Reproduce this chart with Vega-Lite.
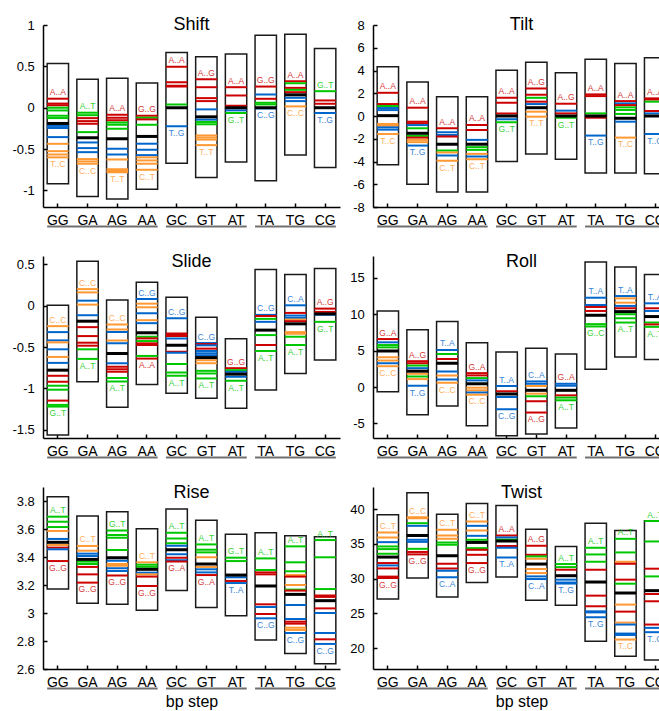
{
"$schema": "https://vega.github.io/schema/vega-lite/v6.json",
"padding": {"left": 11, "top": 16, "right": 0, "bottom": 0},
"autosize": {"type": "pad"},
"config": {
  "view": {"stroke": null},
  "font": "Liberation Sans",
  "axis": {"grid": false, "domainColor": "black", "domainWidth": 1.5, "tickColor": "black", "tickWidth": 1.5, "tickSize": -4, "labelColor": "black", "labelFont": "Liberation Sans", "titleFont": "Liberation Sans", "titleColor": "black", "titleFontWeight": "normal", "labelOverlap": false},
  "axisX": {"labelFontSize": 14, "labelPadding": 10.7, "labelAngle": 0, "titleFontSize": 16, "titlePadding": 4},
  "axisY": {"labelFontSize": 13, "labelPadding": 12.7, "labelExpr": "'' + datum.value"},
  "title": {"font": "Liberation Sans", "fontSize": 18, "fontWeight": "normal", "color": "black", "offset": -15, "baseline": "alphabetic", "frame": "group", "anchor": "middle"},
  "text": {"font": "Liberation Sans"}
},
"datasets": {
"groups": [{"a": "GG", "b": "AA"}, {"a": "GC", "b": "AT"}, {"a": "TA", "b": "CG"}],
"boxes": [
{"p":"Shift","s":"GG","lo":-0.92,"hi":0.536},{"p":"Shift","s":"GA","lo":-1.072,"hi":0.344},{"p":"Shift","s":"AG","lo":-1.104,"hi":0.356},{"p":"Shift","s":"AA","lo":-0.984,"hi":0.298},{"p":"Shift","s":"GC","lo":-0.672,"hi":0.668},{"p":"Shift","s":"GT","lo":-0.844,"hi":0.616},{"p":"Shift","s":"AT","lo":-0.656,"hi":0.648},{"p":"Shift","s":"TA","lo":-0.884,"hi":0.876},{"p":"Shift","s":"TG","lo":-0.572,"hi":0.888},{"p":"Shift","s":"CG","lo":-0.724,"hi":0.716},
{"p":"Tilt","s":"GG","lo":-4.29,"hi":4.32},{"p":"Tilt","s":"GA","lo":-5.99,"hi":3.0},{"p":"Tilt","s":"AG","lo":-6.69,"hi":1.69},{"p":"Tilt","s":"AA","lo":-6.69,"hi":1.69},{"p":"Tilt","s":"GC","lo":-4.0,"hi":4.03},{"p":"Tilt","s":"GT","lo":-3.33,"hi":4.73},{"p":"Tilt","s":"AT","lo":-3.8,"hi":3.8},{"p":"Tilt","s":"TA","lo":-5.02,"hi":5.0},{"p":"Tilt","s":"TG","lo":-5.02,"hi":4.61},{"p":"Tilt","s":"CG","lo":-5.08,"hi":5.11},
{"p":"Slide","s":"GG","lo":-1.564,"hi":0.004},{"p":"Slide","s":"GA","lo":-0.92,"hi":0.536},{"p":"Slide","s":"AG","lo":-1.228,"hi":0.068},{"p":"Slide","s":"AA","lo":-0.952,"hi":0.284},{"p":"Slide","s":"GC","lo":-1.06,"hi":0.1},{"p":"Slide","s":"GT","lo":-1.12,"hi":-0.14},{"p":"Slide","s":"AT","lo":-1.24,"hi":-0.4},{"p":"Slide","s":"TA","lo":-1.02,"hi":0.436},{"p":"Slide","s":"TG","lo":-0.82,"hi":0.376},{"p":"Slide","s":"CG","lo":-0.656,"hi":0.448},
{"p":"Roll","s":"GG","lo":-0.64,"hi":10.45},{"p":"Roll","s":"GA","lo":-3.82,"hi":7.86},{"p":"Roll","s":"AG","lo":-2.59,"hi":9.0},{"p":"Roll","s":"AA","lo":-5.32,"hi":6.09},{"p":"Roll","s":"GC","lo":-6.68,"hi":4.82},{"p":"Roll","s":"GT","lo":-6.45,"hi":5.32},{"p":"Roll","s":"AT","lo":-5.64,"hi":4.55},{"p":"Roll","s":"TA","lo":2.45,"hi":17.18},{"p":"Roll","s":"TG","lo":4.14,"hi":16.5},{"p":"Roll","s":"CG","lo":3.77,"hi":15.45},
{"p":"Rise","s":"GG","lo":3.171,"hi":3.831},{"p":"Rise","s":"GA","lo":3.069,"hi":3.693},{"p":"Rise","s":"AG","lo":3.062,"hi":3.724},{"p":"Rise","s":"AA","lo":3.019,"hi":3.602},{"p":"Rise","s":"GC","lo":3.16,"hi":3.743},{"p":"Rise","s":"GT","lo":3.04,"hi":3.662},{"p":"Rise","s":"AT","lo":2.981,"hi":3.562},{"p":"Rise","s":"TA","lo":2.807,"hi":3.574},{"p":"Rise","s":"TG","lo":2.71,"hi":3.552},{"p":"Rise","s":"CG","lo":2.638,"hi":3.545},
{"p":"Twist","s":"GG","lo":27.08,"hi":39.19},{"p":"Twist","s":"GA","lo":30.1,"hi":42.39},{"p":"Twist","s":"AG","lo":27.37,"hi":39.28},{"p":"Twist","s":"AA","lo":29.47,"hi":40.81},{"p":"Twist","s":"GC","lo":30.24,"hi":40.53},{"p":"Twist","s":"GT","lo":26.89,"hi":37.13},{"p":"Twist","s":"AT","lo":26.17,"hi":34.64},{"p":"Twist","s":"TA","lo":21.0,"hi":37.99},{"p":"Twist","s":"TG","lo":18.85,"hi":36.94},{"p":"Twist","s":"CG","lo":18.28,"hi":38.33}
],
"labels": [
{"p":"Shift","s":"GG","pos":"top","t":"A..A","c":"RR","v":0.109},{"p":"Shift","s":"GG","pos":"bot","t":"T..C","c":"YY","v":-0.6},
{"p":"Shift","s":"GA","pos":"top","t":"A..T","c":"RY","v":-0.06},{"p":"Shift","s":"GA","pos":"bot","t":"C..C","c":"YY","v":-0.677},
{"p":"Shift","s":"AG","pos":"top","t":"A..A","c":"RR","v":-0.085},{"p":"Shift","s":"AG","pos":"bot","t":"T..T","c":"YY","v":-0.78},
{"p":"Shift","s":"AA","pos":"top","t":"G..G","c":"RR","v":-0.097},{"p":"Shift","s":"AA","pos":"bot","t":"C..T","c":"YY","v":-0.75},
{"p":"Shift","s":"GC","pos":"top","t":"A..A","c":"RR","v":0.496},{"p":"Shift","s":"GC","pos":"bot","t":"T..G","c":"YR","v":-0.224},
{"p":"Shift","s":"GT","pos":"top","t":"A..G","c":"RR","v":0.344},{"p":"Shift","s":"GT","pos":"bot","t":"T..T","c":"YY","v":-0.452},
{"p":"Shift","s":"AT","pos":"top","t":"A..A","c":"RR","v":0.248},{"p":"Shift","s":"AT","pos":"bot","t":"G..T","c":"RY","v":-0.064},
{"p":"Shift","s":"TA","pos":"top","t":"G..G","c":"RR","v":0.256},{"p":"Shift","s":"TA","pos":"bot","t":"C..G","c":"YR","v":-0.008},
{"p":"Shift","s":"TG","pos":"top","t":"A..A","c":"RR","v":0.32},{"p":"Shift","s":"TG","pos":"bot","t":"C..C","c":"YY","v":0.016},
{"p":"Shift","s":"CG","pos":"top","t":"G..T","c":"RY","v":0.2},{"p":"Shift","s":"CG","pos":"bot","t":"T..G","c":"YR","v":-0.064},
{"p":"Tilt","s":"GG","pos":"top","t":"A..A","c":"RR","v":2.04},{"p":"Tilt","s":"GG","pos":"bot","t":"T..C","c":"YY","v":-1.58},
{"p":"Tilt","s":"GA","pos":"top","t":"A..A","c":"RR","v":0.73},{"p":"Tilt","s":"GA","pos":"bot","t":"T..G","c":"YR","v":-2.6},
{"p":"Tilt","s":"AG","pos":"top","t":"A..A","c":"RR","v":-1.08},{"p":"Tilt","s":"AG","pos":"bot","t":"C..T","c":"YY","v":-3.94},
{"p":"Tilt","s":"AA","pos":"top","t":"A..A","c":"RR","v":-0.79},{"p":"Tilt","s":"AA","pos":"bot","t":"C..T","c":"YY","v":-3.8},
{"p":"Tilt","s":"GC","pos":"top","t":"A..A","c":"RR","v":1.6},{"p":"Tilt","s":"GC","pos":"bot","t":"G..T","c":"RY","v":-0.55},
{"p":"Tilt","s":"GT","pos":"top","t":"A..G","c":"RR","v":2.42},{"p":"Tilt","s":"GT","pos":"bot","t":"T..T","c":"YY","v":-0.06},
{"p":"Tilt","s":"AT","pos":"top","t":"A..G","c":"RR","v":1.08},{"p":"Tilt","s":"AT","pos":"bot","t":"G..T","c":"RY","v":-0.15},
{"p":"Tilt","s":"TA","pos":"top","t":"A..A","c":"RR","v":1.9},{"p":"Tilt","s":"TA","pos":"bot","t":"T..G","c":"YR","v":-1.72},
{"p":"Tilt","s":"TG","pos":"top","t":"A..A","c":"RR","v":1.31},{"p":"Tilt","s":"TG","pos":"bot","t":"T..C","c":"YY","v":-1.9},
{"p":"Tilt","s":"CG","pos":"top","t":"A..A","c":"RR","v":1.55},{"p":"Tilt","s":"CG","pos":"bot","t":"T..G","c":"YR","v":-1.58},
{"p":"Slide","s":"GG","pos":"top","t":"C..C","c":"YY","v":-0.248},{"p":"Slide","s":"GG","pos":"bot","t":"G..T","c":"RY","v":-1.22},
{"p":"Slide","s":"GA","pos":"top","t":"C..C","c":"YY","v":0.2},{"p":"Slide","s":"GA","pos":"bot","t":"A..T","c":"RY","v":-0.644},
{"p":"Slide","s":"AG","pos":"top","t":"C..C","c":"YY","v":-0.228},{"p":"Slide","s":"AG","pos":"bot","t":"A..T","c":"RY","v":-0.916},
{"p":"Slide","s":"AA","pos":"top","t":"C..G","c":"YR","v":0.08},{"p":"Slide","s":"AA","pos":"bot","t":"A..A","c":"RR","v":-0.64},
{"p":"Slide","s":"GC","pos":"top","t":"C..G","c":"YR","v":-0.152},{"p":"Slide","s":"GC","pos":"bot","t":"A..T","c":"RY","v":-0.848},
{"p":"Slide","s":"GT","pos":"top","t":"C..G","c":"YR","v":-0.452},{"p":"Slide","s":"GT","pos":"bot","t":"A..T","c":"RY","v":-0.88},
{"p":"Slide","s":"AT","pos":"top","t":"G..G","c":"RR","v":-0.756},{"p":"Slide","s":"AT","pos":"bot","t":"A..T","c":"RY","v":-0.908},
{"p":"Slide","s":"TA","pos":"top","t":"C..G","c":"YR","v":-0.112},{"p":"Slide","s":"TA","pos":"bot","t":"A..T","c":"RY","v":-0.548},
{"p":"Slide","s":"TG","pos":"top","t":"C..A","c":"YR","v":0.004},{"p":"Slide","s":"TG","pos":"bot","t":"A..T","c":"RY","v":-0.476},
{"p":"Slide","s":"CG","pos":"top","t":"A..G","c":"RR","v":-0.036},{"p":"Slide","s":"CG","pos":"bot","t":"G..T","c":"RY","v":-0.196},
{"p":"Roll","s":"GG","pos":"top","t":"G..A","c":"RR","v":6.59},{"p":"Roll","s":"GG","pos":"bot","t":"C..C","c":"YY","v":2.86},
{"p":"Roll","s":"GA","pos":"top","t":"A..G","c":"RR","v":3.55},{"p":"Roll","s":"GA","pos":"bot","t":"T..G","c":"YR","v":0.18},
{"p":"Roll","s":"AG","pos":"top","t":"T..A","c":"YR","v":5.09},{"p":"Roll","s":"AG","pos":"bot","t":"C..C","c":"YY","v":0.59},
{"p":"Roll","s":"AA","pos":"top","t":"G..A","c":"RR","v":1.91},{"p":"Roll","s":"AA","pos":"bot","t":"C..C","c":"YY","v":-1.05},
{"p":"Roll","s":"GC","pos":"top","t":"T..A","c":"YR","v":0.14},{"p":"Roll","s":"GC","pos":"bot","t":"C..G","c":"YR","v":-3.05},
{"p":"Roll","s":"GT","pos":"top","t":"C..A","c":"YR","v":0.77},{"p":"Roll","s":"GT","pos":"bot","t":"A..G","c":"RR","v":-3.5},
{"p":"Roll","s":"AT","pos":"top","t":"G..A","c":"RR","v":0.45},{"p":"Roll","s":"AT","pos":"bot","t":"A..T","c":"RY","v":-1.82},
{"p":"Roll","s":"TA","pos":"top","t":"T..A","c":"YR","v":12.27},{"p":"Roll","s":"TA","pos":"bot","t":"G..C","c":"RY","v":8.32},
{"p":"Roll","s":"TG","pos":"top","t":"T..A","c":"YR","v":12.5},{"p":"Roll","s":"TG","pos":"bot","t":"A..T","c":"RY","v":8.86},
{"p":"Roll","s":"CG","pos":"top","t":"T..A","c":"YR","v":11.5},{"p":"Roll","s":"CG","pos":"bot","t":"A..T","c":"RY","v":8.27},
{"p":"Rise","s":"GG","pos":"top","t":"A..T","c":"RY","v":3.688},{"p":"Rise","s":"GG","pos":"bot","t":"G..G","c":"RR","v":3.371},
{"p":"Rise","s":"GA","pos":"top","t":"C..T","c":"YY","v":3.479},{"p":"Rise","s":"GA","pos":"bot","t":"G..G","c":"RR","v":3.217},
{"p":"Rise","s":"AG","pos":"top","t":"G..T","c":"RY","v":3.59},{"p":"Rise","s":"AG","pos":"bot","t":"G..G","c":"RR","v":3.267},
{"p":"Rise","s":"AA","pos":"top","t":"C..T","c":"YY","v":3.362},{"p":"Rise","s":"AA","pos":"bot","t":"G..G","c":"RR","v":3.193},
{"p":"Rise","s":"GC","pos":"top","t":"A..T","c":"RY","v":3.574},{"p":"Rise","s":"GC","pos":"bot","t":"G..A","c":"RR","v":3.367},
{"p":"Rise","s":"GT","pos":"top","t":"A..T","c":"RY","v":3.49},{"p":"Rise","s":"GT","pos":"bot","t":"G..A","c":"RR","v":3.271},
{"p":"Rise","s":"AT","pos":"top","t":"G..T","c":"RY","v":3.395},{"p":"Rise","s":"AT","pos":"bot","t":"T..A","c":"YR","v":3.214},
{"p":"Rise","s":"TA","pos":"top","t":"A..T","c":"RY","v":3.39},{"p":"Rise","s":"TA","pos":"bot","t":"C..G","c":"YR","v":2.962},
{"p":"Rise","s":"TG","pos":"top","t":"A..T","c":"RY","v":3.476},{"p":"Rise","s":"TG","pos":"bot","t":"C..G","c":"YR","v":2.857},
{"p":"Rise","s":"CG","pos":"top","t":"A..T","c":"RY","v":3.521},{"p":"Rise","s":"CG","pos":"bot","t":"C..G","c":"YR","v":2.779},
{"p":"Twist","s":"GG","pos":"top","t":"C..T","c":"YY","v":36.65},{"p":"Twist","s":"GG","pos":"bot","t":"G..G","c":"RR","v":30.1},
{"p":"Twist","s":"GA","pos":"top","t":"C..C","c":"YY","v":38.85},{"p":"Twist","s":"GA","pos":"bot","t":"G..G","c":"RR","v":33.5},
{"p":"Twist","s":"AG","pos":"top","t":"C..T","c":"YY","v":37.03},{"p":"Twist","s":"AG","pos":"bot","t":"C..A","c":"YR","v":30.19},
{"p":"Twist","s":"AA","pos":"top","t":"C..T","c":"YY","v":38.23},{"p":"Twist","s":"AA","pos":"bot","t":"G..G","c":"RR","v":32.25},
{"p":"Twist","s":"GC","pos":"top","t":"A..A","c":"RR","v":36.22},{"p":"Twist","s":"GC","pos":"bot","t":"T..A","c":"YR","v":33.06},
{"p":"Twist","s":"GT","pos":"top","t":"A..G","c":"RR","v":34.74},{"p":"Twist","s":"GT","pos":"bot","t":"C..A","c":"YR","v":29.95},
{"p":"Twist","s":"AT","pos":"top","t":"A..T","c":"RY","v":32.11},{"p":"Twist","s":"AT","pos":"bot","t":"T..G","c":"YR","v":29.3},
{"p":"Twist","s":"TA","pos":"top","t":"A..T","c":"RY","v":34.45},{"p":"Twist","s":"TA","pos":"bot","t":"T..G","c":"YR","v":24.45},
{"p":"Twist","s":"TG","pos":"top","t":"A..T","c":"RY","v":35.74},{"p":"Twist","s":"TG","pos":"bot","t":"T..C","c":"YY","v":21.24},
{"p":"Twist","s":"CG","pos":"top","t":"A..T","c":"RY","v":38.3},{"p":"Twist","s":"CG","pos":"bot","t":"T..G","c":"YR","v":22.3}
],
"lines": [
{"p":"Shift","s":"GG","c":"RR","v":0.109},{"p":"Shift","s":"GG","c":"RR","v":0.05},{"p":"Shift","s":"GG","c":"RR","v":0.03},{"p":"Shift","s":"GG","c":"RY","v":0.0},{"p":"Shift","s":"GG","c":"RY","v":-0.033},{"p":"Shift","s":"GG","c":"RY","v":-0.097},{"p":"Shift","s":"GG","c":"RY","v":-0.125},{"p":"Shift","s":"GG","c":"YR","v":-0.22},{"p":"Shift","s":"GG","c":"YR","v":-0.245},{"p":"Shift","s":"GG","c":"YR","v":-0.355},{"p":"Shift","s":"GG","c":"YY","v":-0.436},{"p":"Shift","s":"GG","c":"YY","v":-0.525},{"p":"Shift","s":"GG","c":"YY","v":-0.565},{"p":"Shift","s":"GG","c":"YY","v":-0.6},{"p":"Shift","s":"GG","c":"M","v":-0.19},
{"p":"Shift","s":"GA","c":"RY","v":-0.06},{"p":"Shift","s":"GA","c":"RY","v":-0.09},{"p":"Shift","s":"GA","c":"RR","v":-0.126},{"p":"Shift","s":"GA","c":"RR","v":-0.162},{"p":"Shift","s":"GA","c":"RR","v":-0.194},{"p":"Shift","s":"GA","c":"RY","v":-0.295},{"p":"Shift","s":"GA","c":"YR","v":-0.42},{"p":"Shift","s":"GA","c":"YR","v":-0.488},{"p":"Shift","s":"GA","c":"YR","v":-0.537},{"p":"Shift","s":"GA","c":"YY","v":-0.621},{"p":"Shift","s":"GA","c":"YY","v":-0.649},{"p":"Shift","s":"GA","c":"YY","v":-0.677},{"p":"Shift","s":"GA","c":"M","v":-0.363},
{"p":"Shift","s":"AG","c":"RR","v":-0.085},{"p":"Shift","s":"AG","c":"RR","v":-0.121},{"p":"Shift","s":"AG","c":"RR","v":-0.15},{"p":"Shift","s":"AG","c":"RY","v":-0.178},{"p":"Shift","s":"AG","c":"RY","v":-0.206},{"p":"Shift","s":"AG","c":"RY","v":-0.254},{"p":"Shift","s":"AG","c":"YR","v":-0.496},{"p":"Shift","s":"AG","c":"YR","v":-0.565},{"p":"Shift","s":"AG","c":"YY","v":-0.625},{"p":"Shift","s":"AG","c":"YY","v":-0.745},{"p":"Shift","s":"AG","c":"YY","v":-0.765},{"p":"Shift","s":"AG","c":"YY","v":-0.78},{"p":"Shift","s":"AG","c":"M","v":-0.375},
{"p":"Shift","s":"AA","c":"RR","v":-0.097},{"p":"Shift","s":"AA","c":"RY","v":-0.121},{"p":"Shift","s":"AA","c":"RR","v":-0.141},{"p":"Shift","s":"AA","c":"RY","v":-0.206},{"p":"Shift","s":"AA","c":"YR","v":-0.435},{"p":"Shift","s":"AA","c":"YR","v":-0.508},{"p":"Shift","s":"AA","c":"YR","v":-0.573},{"p":"Shift","s":"AA","c":"YY","v":-0.6},{"p":"Shift","s":"AA","c":"YY","v":-0.637},{"p":"Shift","s":"AA","c":"YY","v":-0.677},{"p":"Shift","s":"AA","c":"YY","v":-0.75},{"p":"Shift","s":"AA","c":"M","v":-0.347},
{"p":"Shift","s":"GC","c":"RR","v":0.496},{"p":"Shift","s":"GC","c":"RR","v":0.308},{"p":"Shift","s":"GC","c":"RR","v":0.256},{"p":"Shift","s":"GC","c":"RR","v":0.265},{"p":"Shift","s":"GC","c":"RY","v":0.04},{"p":"Shift","s":"GC","c":"YR","v":-0.224},{"p":"Shift","s":"GC","c":"M","v":0.0},
{"p":"Shift","s":"GT","c":"RR","v":0.344},{"p":"Shift","s":"GT","c":"RR","v":0.248},{"p":"Shift","s":"GT","c":"RR","v":0.116},{"p":"Shift","s":"GT","c":"RR","v":0.08},{"p":"Shift","s":"GT","c":"YR","v":-0.02},{"p":"Shift","s":"GT","c":"YR","v":-0.144},{"p":"Shift","s":"GT","c":"RY","v":-0.172},{"p":"Shift","s":"GT","c":"RY","v":-0.2},{"p":"Shift","s":"GT","c":"YY","v":-0.335},{"p":"Shift","s":"GT","c":"YY","v":-0.36},{"p":"Shift","s":"GT","c":"YY","v":-0.385},{"p":"Shift","s":"GT","c":"YY","v":-0.452},{"p":"Shift","s":"GT","c":"M","v":-0.11},
{"p":"Shift","s":"AT","c":"RR","v":0.248},{"p":"Shift","s":"AT","c":"RR","v":0.148},{"p":"Shift","s":"AT","c":"RR","v":0.024},{"p":"Shift","s":"AT","c":"YR","v":-0.032},{"p":"Shift","s":"AT","c":"RY","v":-0.064},{"p":"Shift","s":"AT","c":"M","v":0.0},
{"p":"Shift","s":"TA","c":"RR","v":0.256},{"p":"Shift","s":"TA","c":"YR","v":0.16},{"p":"Shift","s":"TA","c":"RR","v":0.108},{"p":"Shift","s":"TA","c":"RY","v":0.06},{"p":"Shift","s":"TA","c":"RY","v":0.04},{"p":"Shift","s":"TA","c":"YR","v":-0.008},{"p":"Shift","s":"TA","c":"M","v":0.0},
{"p":"Shift","s":"TG","c":"RR","v":0.32},{"p":"Shift","s":"TG","c":"RY","v":0.296},{"p":"Shift","s":"TG","c":"RR","v":0.24},{"p":"Shift","s":"TG","c":"RY","v":0.216},{"p":"Shift","s":"TG","c":"RR","v":0.188},{"p":"Shift","s":"TG","c":"YR","v":0.12},{"p":"Shift","s":"TG","c":"YR","v":0.08},{"p":"Shift","s":"TG","c":"YY","v":0.016},{"p":"Shift","s":"TG","c":"M","v":0.156},
{"p":"Shift","s":"CG","c":"RY","v":0.2},{"p":"Shift","s":"CG","c":"RR","v":0.088},{"p":"Shift","s":"CG","c":"RR","v":0.048},{"p":"Shift","s":"CG","c":"YR","v":-0.064},{"p":"Shift","s":"CG","c":"M","v":0.0},
{"p":"Tilt","s":"GG","c":"RR","v":2.04},{"p":"Tilt","s":"GG","c":"RR","v":1.05},{"p":"Tilt","s":"GG","c":"RY","v":0.88},{"p":"Tilt","s":"GG","c":"YR","v":0.7},{"p":"Tilt","s":"GG","c":"YR","v":0.52},{"p":"Tilt","s":"GG","c":"YY","v":-0.7},{"p":"Tilt","s":"GG","c":"YY","v":-0.85},{"p":"Tilt","s":"GG","c":"YR","v":-1.0},{"p":"Tilt","s":"GG","c":"YR","v":-1.2},{"p":"Tilt","s":"GG","c":"YY","v":-1.58},{"p":"Tilt","s":"GG","c":"M","v":0.03},
{"p":"Tilt","s":"GA","c":"RR","v":0.73},{"p":"Tilt","s":"GA","c":"RR","v":-0.5},{"p":"Tilt","s":"GA","c":"RR","v":-0.64},{"p":"Tilt","s":"GA","c":"YR","v":-0.8},{"p":"Tilt","s":"GA","c":"RY","v":-1.08},{"p":"Tilt","s":"GA","c":"RY","v":-1.75},{"p":"Tilt","s":"GA","c":"RR","v":-1.9},{"p":"Tilt","s":"GA","c":"YY","v":-2.1},{"p":"Tilt","s":"GA","c":"YY","v":-2.3},{"p":"Tilt","s":"GA","c":"YR","v":-2.6},{"p":"Tilt","s":"GA","c":"M","v":-1.52},
{"p":"Tilt","s":"AG","c":"RR","v":-1.08},{"p":"Tilt","s":"AG","c":"YR","v":-1.43},{"p":"Tilt","s":"AG","c":"YR","v":-1.66},{"p":"Tilt","s":"AG","c":"RR","v":-1.81},{"p":"Tilt","s":"AG","c":"RY","v":-3.04},{"p":"Tilt","s":"AG","c":"YY","v":-3.2},{"p":"Tilt","s":"AG","c":"YR","v":-3.47},{"p":"Tilt","s":"AG","c":"YY","v":-3.94},{"p":"Tilt","s":"AG","c":"M","v":-2.48},
{"p":"Tilt","s":"AA","c":"RR","v":-0.79},{"p":"Tilt","s":"AA","c":"RR","v":-1.23},{"p":"Tilt","s":"AA","c":"YR","v":-2.1},{"p":"Tilt","s":"AA","c":"RY","v":-2.74},{"p":"Tilt","s":"AA","c":"RY","v":-2.98},{"p":"Tilt","s":"AA","c":"YY","v":-3.33},{"p":"Tilt","s":"AA","c":"YR","v":-3.56},{"p":"Tilt","s":"AA","c":"YY","v":-3.8},{"p":"Tilt","s":"AA","c":"M","v":-2.48},
{"p":"Tilt","s":"GC","c":"RR","v":1.6},{"p":"Tilt","s":"GC","c":"RR","v":1.17},{"p":"Tilt","s":"GC","c":"RR","v":0.23},{"p":"Tilt","s":"GC","c":"YR","v":-0.29},{"p":"Tilt","s":"GC","c":"RY","v":-0.55},{"p":"Tilt","s":"GC","c":"M","v":0.0},
{"p":"Tilt","s":"GT","c":"RR","v":2.42},{"p":"Tilt","s":"GT","c":"RR","v":1.87},{"p":"Tilt","s":"GT","c":"RY","v":1.6},{"p":"Tilt","s":"GT","c":"RR","v":1.26},{"p":"Tilt","s":"GT","c":"YR","v":1.05},{"p":"Tilt","s":"GT","c":"YY","v":0.38},{"p":"Tilt","s":"GT","c":"YY","v":-0.06},{"p":"Tilt","s":"GT","c":"M","v":0.73},
{"p":"Tilt","s":"AT","c":"RR","v":1.08},{"p":"Tilt","s":"AT","c":"YR","v":0.47},{"p":"Tilt","s":"AT","c":"RR","v":0.23},{"p":"Tilt","s":"AT","c":"RY","v":-0.15},{"p":"Tilt","s":"AT","c":"M","v":0.0},
{"p":"Tilt","s":"TA","c":"RR","v":1.9},{"p":"Tilt","s":"TA","c":"RR","v":1.75},{"p":"Tilt","s":"TA","c":"RY","v":0.23},{"p":"Tilt","s":"TA","c":"RR","v":-0.15},{"p":"Tilt","s":"TA","c":"YR","v":-1.72},{"p":"Tilt","s":"TA","c":"M","v":0.0},
{"p":"Tilt","s":"TG","c":"RR","v":1.31},{"p":"Tilt","s":"TG","c":"YR","v":1.11},{"p":"Tilt","s":"TG","c":"RR","v":0.96},{"p":"Tilt","s":"TG","c":"RY","v":0.76},{"p":"Tilt","s":"TG","c":"RY","v":0.53},{"p":"Tilt","s":"TG","c":"RY","v":0.18},{"p":"Tilt","s":"TG","c":"YR","v":-0.5},{"p":"Tilt","s":"TG","c":"YY","v":-1.9},{"p":"Tilt","s":"TG","c":"M","v":-0.2},
{"p":"Tilt","s":"CG","c":"RR","v":1.55},{"p":"Tilt","s":"CG","c":"RR","v":1.45},{"p":"Tilt","s":"CG","c":"RY","v":1.26},{"p":"Tilt","s":"CG","c":"RR","v":0.44},{"p":"Tilt","s":"CG","c":"YR","v":0.23},{"p":"Tilt","s":"CG","c":"YR","v":-1.58},{"p":"Tilt","s":"CG","c":"M","v":0.0},
{"p":"Slide","s":"GG","c":"YY","v":-0.248},{"p":"Slide","s":"GG","c":"YR","v":-0.32},{"p":"Slide","s":"GG","c":"YR","v":-0.42},{"p":"Slide","s":"GG","c":"YY","v":-0.444},{"p":"Slide","s":"GG","c":"YR","v":-0.528},{"p":"Slide","s":"GG","c":"YY","v":-0.62},{"p":"Slide","s":"GG","c":"YR","v":-0.692},{"p":"Slide","s":"GG","c":"RR","v":-0.848},{"p":"Slide","s":"GG","c":"RR","v":-0.92},{"p":"Slide","s":"GG","c":"RY","v":-0.968},{"p":"Slide","s":"GG","c":"RY","v":-1.016},{"p":"Slide","s":"GG","c":"RR","v":-1.148},{"p":"Slide","s":"GG","c":"RY","v":-1.2},{"p":"Slide","s":"GG","c":"RY","v":-1.22},{"p":"Slide","s":"GG","c":"M","v":-0.78},
{"p":"Slide","s":"GA","c":"YY","v":0.2},{"p":"Slide","s":"GA","c":"YY","v":0.16},{"p":"Slide","s":"GA","c":"YR","v":0.06},{"p":"Slide","s":"GA","c":"YY","v":0.012},{"p":"Slide","s":"GA","c":"YR","v":-0.116},{"p":"Slide","s":"GA","c":"RR","v":-0.26},{"p":"Slide","s":"GA","c":"RR","v":-0.368},{"p":"Slide","s":"GA","c":"RR","v":-0.448},{"p":"Slide","s":"GA","c":"RR","v":-0.484},{"p":"Slide","s":"GA","c":"RY","v":-0.528},{"p":"Slide","s":"GA","c":"RY","v":-0.644},{"p":"Slide","s":"GA","c":"M","v":-0.188},
{"p":"Slide","s":"AG","c":"YY","v":-0.228},{"p":"Slide","s":"AG","c":"YY","v":-0.288},{"p":"Slide","s":"AG","c":"YR","v":-0.32},{"p":"Slide","s":"AG","c":"YY","v":-0.42},{"p":"Slide","s":"AG","c":"YR","v":-0.456},{"p":"Slide","s":"AG","c":"YR","v":-0.696},{"p":"Slide","s":"AG","c":"RR","v":-0.74},{"p":"Slide","s":"AG","c":"RR","v":-0.77},{"p":"Slide","s":"AG","c":"RR","v":-0.8},{"p":"Slide","s":"AG","c":"RY","v":-0.876},{"p":"Slide","s":"AG","c":"RY","v":-0.916},{"p":"Slide","s":"AG","c":"M","v":-0.58},
{"p":"Slide","s":"AA","c":"YR","v":0.08},{"p":"Slide","s":"AA","c":"YY","v":0.024},{"p":"Slide","s":"AA","c":"YY","v":-0.02},{"p":"Slide","s":"AA","c":"YR","v":-0.092},{"p":"Slide","s":"AA","c":"YY","v":-0.176},{"p":"Slide","s":"AA","c":"YR","v":-0.212},{"p":"Slide","s":"AA","c":"RY","v":-0.376},{"p":"Slide","s":"AA","c":"RR","v":-0.396},{"p":"Slide","s":"AA","c":"RY","v":-0.428},{"p":"Slide","s":"AA","c":"RR","v":-0.456},{"p":"Slide","s":"AA","c":"RR","v":-0.476},{"p":"Slide","s":"AA","c":"RY","v":-0.608},{"p":"Slide","s":"AA","c":"RR","v":-0.64},{"p":"Slide","s":"AA","c":"M","v":-0.328},
{"p":"Slide","s":"GC","c":"YR","v":-0.152},{"p":"Slide","s":"GC","c":"RR","v":-0.336},{"p":"Slide","s":"GC","c":"RR","v":-0.352},{"p":"Slide","s":"GC","c":"RR","v":-0.368},{"p":"Slide","s":"GC","c":"YR","v":-0.396},{"p":"Slide","s":"GC","c":"RR","v":-0.556},{"p":"Slide","s":"GC","c":"YR","v":-0.568},{"p":"Slide","s":"GC","c":"RY","v":-0.704},{"p":"Slide","s":"GC","c":"RY","v":-0.808},{"p":"Slide","s":"GC","c":"RY","v":-0.848},{"p":"Slide","s":"GC","c":"M","v":-0.48},
{"p":"Slide","s":"GT","c":"YR","v":-0.452},{"p":"Slide","s":"GT","c":"RR","v":-0.465},{"p":"Slide","s":"GT","c":"YR","v":-0.48},{"p":"Slide","s":"GT","c":"RR","v":-0.52},{"p":"Slide","s":"GT","c":"YR","v":-0.548},{"p":"Slide","s":"GT","c":"YR","v":-0.576},{"p":"Slide","s":"GT","c":"YR","v":-0.6},{"p":"Slide","s":"GT","c":"YY","v":-0.66},{"p":"Slide","s":"GT","c":"YY","v":-0.696},{"p":"Slide","s":"GT","c":"RY","v":-0.788},{"p":"Slide","s":"GT","c":"RY","v":-0.82},{"p":"Slide","s":"GT","c":"RY","v":-0.88},{"p":"Slide","s":"GT","c":"M","v":-0.628},
{"p":"Slide","s":"AT","c":"RR","v":-0.756},{"p":"Slide","s":"AT","c":"RY","v":-0.78},{"p":"Slide","s":"AT","c":"YR","v":-0.8},{"p":"Slide","s":"AT","c":"YR","v":-0.86},{"p":"Slide","s":"AT","c":"RY","v":-0.908},{"p":"Slide","s":"AT","c":"M","v":-0.828},
{"p":"Slide","s":"TA","c":"YR","v":-0.112},{"p":"Slide","s":"TA","c":"RR","v":-0.125},{"p":"Slide","s":"TA","c":"RY","v":-0.16},{"p":"Slide","s":"TA","c":"YR","v":-0.196},{"p":"Slide","s":"TA","c":"RY","v":-0.356},{"p":"Slide","s":"TA","c":"RR","v":-0.476},{"p":"Slide","s":"TA","c":"RY","v":-0.548},{"p":"Slide","s":"TA","c":"M","v":-0.296},
{"p":"Slide","s":"TG","c":"YR","v":0.004},{"p":"Slide","s":"TG","c":"RR","v":-0.088},{"p":"Slide","s":"TG","c":"YR","v":-0.12},{"p":"Slide","s":"TG","c":"YR","v":-0.148},{"p":"Slide","s":"TG","c":"YY","v":-0.168},{"p":"Slide","s":"TG","c":"RR","v":-0.188},{"p":"Slide","s":"TG","c":"YY","v":-0.32},{"p":"Slide","s":"TG","c":"YY","v":-0.34},{"p":"Slide","s":"TG","c":"RY","v":-0.376},{"p":"Slide","s":"TG","c":"RY","v":-0.476},{"p":"Slide","s":"TG","c":"M","v":-0.22},
{"p":"Slide","s":"CG","c":"RR","v":-0.036},{"p":"Slide","s":"CG","c":"RR","v":-0.076},{"p":"Slide","s":"CG","c":"YR","v":-0.11},{"p":"Slide","s":"CG","c":"RY","v":-0.196},{"p":"Slide","s":"CG","c":"M","v":-0.1},
{"p":"Roll","s":"GG","c":"RR","v":6.59},{"p":"Roll","s":"GG","c":"YR","v":6.14},{"p":"Roll","s":"GG","c":"RY","v":5.77},{"p":"Roll","s":"GG","c":"RY","v":5.45},{"p":"Roll","s":"GG","c":"YY","v":4.09},{"p":"Roll","s":"GG","c":"YY","v":3.64},{"p":"Roll","s":"GG","c":"YR","v":3.27},{"p":"Roll","s":"GG","c":"YY","v":2.86},{"p":"Roll","s":"GG","c":"M","v":4.95},
{"p":"Roll","s":"GA","c":"RR","v":3.55},{"p":"Roll","s":"GA","c":"RR","v":3.27},{"p":"Roll","s":"GA","c":"RY","v":2.95},{"p":"Roll","s":"GA","c":"YR","v":2.59},{"p":"Roll","s":"GA","c":"YY","v":1.82},{"p":"Roll","s":"GA","c":"RY","v":1.45},{"p":"Roll","s":"GA","c":"YY","v":1.09},{"p":"Roll","s":"GA","c":"YR","v":0.18},{"p":"Roll","s":"GA","c":"M","v":2.18},
{"p":"Roll","s":"AG","c":"YR","v":5.09},{"p":"Roll","s":"AG","c":"RY","v":4.55},{"p":"Roll","s":"AG","c":"RR","v":3.86},{"p":"Roll","s":"AG","c":"YR","v":2.14},{"p":"Roll","s":"AG","c":"YY","v":1.59},{"p":"Roll","s":"AG","c":"YR","v":1.05},{"p":"Roll","s":"AG","c":"YY","v":0.59},{"p":"Roll","s":"AG","c":"M","v":3.27},
{"p":"Roll","s":"AA","c":"RR","v":1.91},{"p":"Roll","s":"AA","c":"RR","v":1.6},{"p":"Roll","s":"AA","c":"RY","v":1.23},{"p":"Roll","s":"AA","c":"YR","v":0.91},{"p":"Roll","s":"AA","c":"YY","v":-0.09},{"p":"Roll","s":"AA","c":"YY","v":-0.45},{"p":"Roll","s":"AA","c":"YR","v":-0.75},{"p":"Roll","s":"AA","c":"YY","v":-1.05},{"p":"Roll","s":"AA","c":"M","v":0.45},
{"p":"Roll","s":"GC","c":"YR","v":0.14},{"p":"Roll","s":"GC","c":"RR","v":-0.59},{"p":"Roll","s":"GC","c":"YR","v":-1.36},{"p":"Roll","s":"GC","c":"YR","v":-3.05},{"p":"Roll","s":"GC","c":"M","v":-0.95},
{"p":"Roll","s":"GT","c":"YR","v":0.77},{"p":"Roll","s":"GT","c":"YR","v":0.45},{"p":"Roll","s":"GT","c":"YY","v":0.14},{"p":"Roll","s":"GT","c":"YY","v":-0.91},{"p":"Roll","s":"GT","c":"RY","v":-1.27},{"p":"Roll","s":"GT","c":"RR","v":-1.95},{"p":"Roll","s":"GT","c":"RR","v":-3.5},{"p":"Roll","s":"GT","c":"M","v":-0.45},
{"p":"Roll","s":"AT","c":"YR","v":0.45},{"p":"Roll","s":"AT","c":"YR","v":0.18},{"p":"Roll","s":"AT","c":"RR","v":-1.14},{"p":"Roll","s":"AT","c":"RY","v":-1.45},{"p":"Roll","s":"AT","c":"RY","v":-1.82},{"p":"Roll","s":"AT","c":"M","v":-0.45},
{"p":"Roll","s":"TA","c":"YR","v":12.27},{"p":"Roll","s":"TA","c":"YR","v":11.27},{"p":"Roll","s":"TA","c":"RR","v":11.0},{"p":"Roll","s":"TA","c":"RR","v":10.45},{"p":"Roll","s":"TA","c":"RY","v":8.64},{"p":"Roll","s":"TA","c":"RY","v":8.32},{"p":"Roll","s":"TA","c":"M","v":9.86},
{"p":"Roll","s":"TG","c":"YR","v":12.5},{"p":"Roll","s":"TG","c":"YY","v":12.18},{"p":"Roll","s":"TG","c":"YY","v":11.59},{"p":"Roll","s":"TG","c":"YR","v":11.14},{"p":"Roll","s":"TG","c":"RR","v":10.82},{"p":"Roll","s":"TG","c":"RY","v":10.0},{"p":"Roll","s":"TG","c":"RY","v":9.45},{"p":"Roll","s":"TG","c":"RY","v":8.86},{"p":"Roll","s":"TG","c":"M","v":10.36},
{"p":"Roll","s":"CG","c":"YR","v":11.5},{"p":"Roll","s":"CG","c":"RR","v":10.82},{"p":"Roll","s":"CG","c":"YR","v":10.45},{"p":"Roll","s":"CG","c":"RY","v":8.86},{"p":"Roll","s":"CG","c":"RR","v":8.6},{"p":"Roll","s":"CG","c":"RY","v":8.27},{"p":"Roll","s":"CG","c":"M","v":9.68},
{"p":"Rise","s":"GG","c":"RY","v":3.688},{"p":"Rise","s":"GG","c":"RY","v":3.652},{"p":"Rise","s":"GG","c":"RY","v":3.614},{"p":"Rise","s":"GG","c":"YY","v":3.586},{"p":"Rise","s":"GG","c":"YR","v":3.529},{"p":"Rise","s":"GG","c":"YY","v":3.486},{"p":"Rise","s":"GG","c":"RR","v":3.467},{"p":"Rise","s":"GG","c":"YR","v":3.455},{"p":"Rise","s":"GG","c":"RR","v":3.371},{"p":"Rise","s":"GG","c":"M","v":3.505},
{"p":"Rise","s":"GA","c":"YY","v":3.479},{"p":"Rise","s":"GA","c":"YY","v":3.445},{"p":"Rise","s":"GA","c":"YR","v":3.424},{"p":"Rise","s":"GA","c":"YR","v":3.407},{"p":"Rise","s":"GA","c":"RY","v":3.367},{"p":"Rise","s":"GA","c":"RY","v":3.35},{"p":"Rise","s":"GA","c":"RR","v":3.329},{"p":"Rise","s":"GA","c":"RR","v":3.276},{"p":"Rise","s":"GA","c":"RR","v":3.217},{"p":"Rise","s":"GA","c":"M","v":3.383},
{"p":"Rise","s":"AG","c":"RY","v":3.59},{"p":"Rise","s":"AG","c":"RY","v":3.557},{"p":"Rise","s":"AG","c":"RY","v":3.538},{"p":"Rise","s":"AG","c":"RY","v":3.45},{"p":"Rise","s":"AG","c":"YR","v":3.374},{"p":"Rise","s":"AG","c":"YY","v":3.35},{"p":"Rise","s":"AG","c":"YY","v":3.338},{"p":"Rise","s":"AG","c":"YR","v":3.319},{"p":"Rise","s":"AG","c":"YR","v":3.3},{"p":"Rise","s":"AG","c":"RR","v":3.267},{"p":"Rise","s":"AG","c":"M","v":3.395},
{"p":"Rise","s":"AA","c":"YY","v":3.362},{"p":"Rise","s":"AA","c":"RY","v":3.345},{"p":"Rise","s":"AA","c":"RY","v":3.33},{"p":"Rise","s":"AA","c":"YR","v":3.288},{"p":"Rise","s":"AA","c":"YY","v":3.276},{"p":"Rise","s":"AA","c":"RR","v":3.26},{"p":"Rise","s":"AA","c":"RR","v":3.193},{"p":"Rise","s":"AA","c":"M","v":3.312},
{"p":"Rise","s":"GC","c":"RY","v":3.574},{"p":"Rise","s":"GC","c":"RY","v":3.533},{"p":"Rise","s":"GC","c":"RY","v":3.498},{"p":"Rise","s":"GC","c":"YR","v":3.481},{"p":"Rise","s":"GC","c":"YR","v":3.419},{"p":"Rise","s":"GC","c":"RR","v":3.395},{"p":"Rise","s":"GC","c":"YR","v":3.376},{"p":"Rise","s":"GC","c":"RR","v":3.367},{"p":"Rise","s":"GC","c":"M","v":3.452},
{"p":"Rise","s":"GT","c":"RY","v":3.49},{"p":"Rise","s":"GT","c":"RY","v":3.452},{"p":"Rise","s":"GT","c":"RY","v":3.433},{"p":"Rise","s":"GT","c":"YY","v":3.398},{"p":"Rise","s":"GT","c":"YY","v":3.329},{"p":"Rise","s":"GT","c":"YR","v":3.312},{"p":"Rise","s":"GT","c":"YR","v":3.29},{"p":"Rise","s":"GT","c":"RR","v":3.271},{"p":"Rise","s":"GT","c":"M","v":3.35},
{"p":"Rise","s":"AT","c":"RY","v":3.395},{"p":"Rise","s":"AT","c":"RY","v":3.371},{"p":"Rise","s":"AT","c":"YR","v":3.255},{"p":"Rise","s":"AT","c":"RR","v":3.229},{"p":"Rise","s":"AT","c":"YR","v":3.214},{"p":"Rise","s":"AT","c":"M","v":3.271},
{"p":"Rise","s":"TA","c":"RY","v":3.39},{"p":"Rise","s":"TA","c":"RY","v":3.307},{"p":"Rise","s":"TA","c":"RR","v":3.29},{"p":"Rise","s":"TA","c":"RR","v":3.276},{"p":"Rise","s":"TA","c":"RR","v":3.062},{"p":"Rise","s":"TA","c":"YR","v":3.043},{"p":"Rise","s":"TA","c":"RR","v":2.993},{"p":"Rise","s":"TA","c":"YR","v":2.962},{"p":"Rise","s":"TA","c":"M","v":3.193},
{"p":"Rise","s":"TG","c":"RY","v":3.476},{"p":"Rise","s":"TG","c":"RY","v":3.362},{"p":"Rise","s":"TG","c":"RY","v":3.298},{"p":"Rise","s":"TG","c":"YY","v":3.271},{"p":"Rise","s":"TG","c":"RR","v":3.26},{"p":"Rise","s":"TG","c":"YY","v":3.2},{"p":"Rise","s":"TG","c":"RY","v":3.167},{"p":"Rise","s":"TG","c":"RR","v":3.16},{"p":"Rise","s":"TG","c":"YR","v":3.057},{"p":"Rise","s":"TG","c":"YR","v":2.957},{"p":"Rise","s":"TG","c":"RR","v":2.938},{"p":"Rise","s":"TG","c":"RR","v":2.924},{"p":"Rise","s":"TG","c":"YY","v":2.895},{"p":"Rise","s":"TG","c":"YY","v":2.879},{"p":"Rise","s":"TG","c":"YR","v":2.857},{"p":"Rise","s":"TG","c":"M","v":3.133},
{"p":"Rise","s":"CG","c":"RY","v":3.521},{"p":"Rise","s":"CG","c":"RY","v":3.398},{"p":"Rise","s":"CG","c":"RY","v":3.171},{"p":"Rise","s":"CG","c":"RR","v":3.125},{"p":"Rise","s":"CG","c":"RR","v":3.115},{"p":"Rise","s":"CG","c":"RR","v":3.033},{"p":"Rise","s":"CG","c":"YR","v":3.0},{"p":"Rise","s":"CG","c":"YR","v":2.857},{"p":"Rise","s":"CG","c":"RR","v":2.812},{"p":"Rise","s":"CG","c":"YR","v":2.779},{"p":"Rise","s":"CG","c":"M","v":3.088},
{"p":"Twist","s":"GG","c":"YY","v":36.65},{"p":"Twist","s":"GG","c":"YY","v":35.93},{"p":"Twist","s":"GG","c":"YR","v":35.26},{"p":"Twist","s":"GG","c":"RY","v":34.64},{"p":"Twist","s":"GG","c":"RY","v":34.26},{"p":"Twist","s":"GG","c":"RY","v":33.59},{"p":"Twist","s":"GG","c":"RR","v":32.25},{"p":"Twist","s":"GG","c":"YR","v":31.91},{"p":"Twist","s":"GG","c":"RR","v":31.48},{"p":"Twist","s":"GG","c":"RR","v":30.3},{"p":"Twist","s":"GG","c":"RR","v":30.1},{"p":"Twist","s":"GG","c":"M","v":33.11},
{"p":"Twist","s":"GA","c":"YY","v":38.85},{"p":"Twist","s":"GA","c":"YY","v":38.7},{"p":"Twist","s":"GA","c":"RY","v":37.99},{"p":"Twist","s":"GA","c":"YR","v":37.61},{"p":"Twist","s":"GA","c":"YR","v":35.6},{"p":"Twist","s":"GA","c":"YR","v":35.3},{"p":"Twist","s":"GA","c":"RY","v":34.3},{"p":"Twist","s":"GA","c":"RR","v":33.85},{"p":"Twist","s":"GA","c":"RR","v":33.5},{"p":"Twist","s":"GA","c":"M","v":36.22},
{"p":"Twist","s":"AG","c":"YY","v":37.03},{"p":"Twist","s":"AG","c":"YY","v":36.22},{"p":"Twist","s":"AG","c":"YY","v":35.74},{"p":"Twist","s":"AG","c":"RY","v":35.22},{"p":"Twist","s":"AG","c":"RY","v":34.88},{"p":"Twist","s":"AG","c":"RR","v":32.15},{"p":"Twist","s":"AG","c":"RR","v":31.48},{"p":"Twist","s":"AG","c":"YR","v":31.15},{"p":"Twist","s":"AG","c":"YR","v":30.19},{"p":"Twist","s":"AG","c":"M","v":33.3},
{"p":"Twist","s":"AA","c":"YY","v":38.23},{"p":"Twist","s":"AA","c":"YR","v":37.61},{"p":"Twist","s":"AA","c":"YY","v":36.94},{"p":"Twist","s":"AA","c":"YR","v":36.17},{"p":"Twist","s":"AA","c":"RY","v":35.6},{"p":"Twist","s":"AA","c":"RY","v":34.4},{"p":"Twist","s":"AA","c":"RR","v":34.16},{"p":"Twist","s":"AA","c":"RR","v":33.44},{"p":"Twist","s":"AA","c":"RR","v":32.25},{"p":"Twist","s":"AA","c":"M","v":35.22},
{"p":"Twist","s":"GC","c":"RR","v":36.22},{"p":"Twist","s":"GC","c":"YR","v":35.93},{"p":"Twist","s":"GC","c":"RY","v":35.6},{"p":"Twist","s":"GC","c":"RR","v":34.69},{"p":"Twist","s":"GC","c":"YR","v":34.45},{"p":"Twist","s":"GC","c":"YR","v":33.06},{"p":"Twist","s":"GC","c":"M","v":35.41},
{"p":"Twist","s":"GT","c":"RR","v":34.74},{"p":"Twist","s":"GT","c":"RR","v":33.44},{"p":"Twist","s":"GT","c":"RY","v":33.21},{"p":"Twist","s":"GT","c":"YY","v":32.87},{"p":"Twist","s":"GT","c":"YY","v":31.39},{"p":"Twist","s":"GT","c":"YY","v":30.81},{"p":"Twist","s":"GT","c":"YR","v":30.33},{"p":"Twist","s":"GT","c":"YR","v":29.95},{"p":"Twist","s":"GT","c":"M","v":32.11},
{"p":"Twist","s":"AT","c":"RY","v":32.11},{"p":"Twist","s":"AT","c":"RY","v":31.67},{"p":"Twist","s":"AT","c":"RR","v":31.29},{"p":"Twist","s":"AT","c":"YR","v":29.86},{"p":"Twist","s":"AT","c":"YR","v":29.45},{"p":"Twist","s":"AT","c":"YR","v":29.3},{"p":"Twist","s":"AT","c":"M","v":30.43},
{"p":"Twist","s":"TA","c":"RY","v":34.45},{"p":"Twist","s":"TA","c":"RY","v":33.49},{"p":"Twist","s":"TA","c":"RY","v":32.44},{"p":"Twist","s":"TA","c":"RR","v":31.29},{"p":"Twist","s":"TA","c":"RR","v":27.56},{"p":"Twist","s":"TA","c":"RR","v":26.03},{"p":"Twist","s":"TA","c":"YR","v":25.3},{"p":"Twist","s":"TA","c":"YR","v":25.15},{"p":"Twist","s":"TA","c":"YR","v":24.45},{"p":"Twist","s":"TA","c":"M","v":29.52},
{"p":"Twist","s":"TG","c":"RY","v":35.74},{"p":"Twist","s":"TG","c":"RY","v":33.78},{"p":"Twist","s":"TG","c":"YY","v":32.44},{"p":"Twist","s":"TG","c":"RR","v":32.15},{"p":"Twist","s":"TG","c":"RR","v":29.86},{"p":"Twist","s":"TG","c":"RY","v":29.28},{"p":"Twist","s":"TG","c":"YY","v":26.27},{"p":"Twist","s":"TG","c":"RR","v":25.26},{"p":"Twist","s":"TG","c":"YY","v":23.68},{"p":"Twist","s":"TG","c":"YR","v":23.4},{"p":"Twist","s":"TG","c":"YR","v":22.1},{"p":"Twist","s":"TG","c":"YR","v":21.9},{"p":"Twist","s":"TG","c":"YY","v":21.24},{"p":"Twist","s":"TG","c":"M","v":27.94},
{"p":"Twist","s":"CG","c":"RY","v":38.3},{"p":"Twist","s":"CG","c":"RY","v":35.36},{"p":"Twist","s":"CG","c":"RR","v":31.44},{"p":"Twist","s":"CG","c":"RY","v":30.33},{"p":"Twist","s":"CG","c":"RR","v":27.8},{"p":"Twist","s":"CG","c":"RR","v":26.75},{"p":"Twist","s":"CG","c":"RR","v":23.4},{"p":"Twist","s":"CG","c":"YR","v":22.92},{"p":"Twist","s":"CG","c":"YR","v":22.3},{"p":"Twist","s":"CG","c":"M","v":28.28}
]
},
"columns": 2,
"spacing": {"row": 49, "column": 33},
"bounds": "flush",
"concat": [
{"title": "Shift", "width": 297, "height": 182, "layer": [
 {"data": {"name": "boxes"}, "transform": [{"filter": "datum.p == 'Shift'"}], "mark": {"type": "bar", "fill": "white", "stroke": "#1a1a1a", "strokeWidth": 1.5},
  "encoding": {"x": {"field": "s", "type": "nominal", "title": null, "scale": {"domain": ["GG","GA","AG","AA","GC","GT","AT","TA","TG","CG"], "paddingInner": 0.28, "paddingOuter": 0.14}},
   "y": {"field": "lo", "type": "quantitative", "title": null, "scale": {"domain": [-1.2, 1], "nice": false, "zero": false}, "axis": {"values": [-1, -0.5, 0, 0.5, 1]}}, "y2": {"field": "hi"}}},
 {"data": {"name": "lines"}, "transform": [{"filter": "datum.p == 'Shift' && datum.c != 'M'"}], "mark": {"type": "tick", "orient": "horizontal", "size": 21.4, "thickness": 2, "opacity": 1},
  "encoding": {"x": {"field": "s", "type": "nominal", "title": null}, "y": {"field": "v", "type": "quantitative", "title": null, "axis": {"values": [-1, -0.5, 0, 0.5, 1]}},
   "color": {"field": "c", "type": "nominal", "legend": null, "scale": {"domain": ["RR","YY","RY","YR"], "range": ["#cc0000","#ff9933","#00c800","#0066cc"]}}}},
 {"data": {"name": "lines"}, "transform": [{"filter": "datum.p == 'Shift' && datum.c == 'M'"}], "mark": {"type": "tick", "orient": "horizontal", "size": 21.4, "thickness": 3, "opacity": 1, "color": "black"},
  "encoding": {"x": {"field": "s", "type": "nominal", "title": null}, "y": {"field": "v", "type": "quantitative", "title": null, "axis": {"values": [-1, -0.5, 0, 0.5, 1]}}}},
 {"data": {"name": "labels"}, "transform": [{"filter": "datum.p == 'Shift' && datum.pos == 'top'"}], "mark": {"type": "text", "fontSize": 8.5, "baseline": "alphabetic", "dy": -3.5, "opacity": 0.8},
  "encoding": {"x": {"field": "s", "type": "nominal", "title": null}, "y": {"field": "v", "type": "quantitative", "title": null, "axis": {"values": [-1, -0.5, 0, 0.5, 1]}}, "text": {"field": "t"}, "color": {"field": "c", "type": "nominal", "legend": null}}},
 {"data": {"name": "labels"}, "transform": [{"filter": "datum.p == 'Shift' && datum.pos == 'bot'"}], "mark": {"type": "text", "fontSize": 8.5, "baseline": "alphabetic", "dy": 9.8, "opacity": 0.8},
  "encoding": {"x": {"field": "s", "type": "nominal", "title": null}, "y": {"field": "v", "type": "quantitative", "title": null, "axis": {"values": [-1, -0.5, 0, 0.5, 1]}}, "text": {"field": "t"}, "color": {"field": "c", "type": "nominal", "legend": null}}},
 {"data": {"name": "groups"}, "mark": {"type": "rule", "color": "#707070", "strokeWidth": 2},
  "encoding": {"x": {"field": "a", "type": "nominal", "bandPosition": 0, "title": null}, "x2": {"field": "b", "bandPosition": 1}, "y": {"datum": -1.436, "axis": {"values": [-1, -0.5, 0, 0.5, 1]}}}}
]},
{"title": "Tilt", "width": 297, "height": 182, "layer": [
 {"data": {"name": "boxes"}, "transform": [{"filter": "datum.p == 'Tilt'"}], "mark": {"type": "bar", "fill": "white", "stroke": "#1a1a1a", "strokeWidth": 1.5},
  "encoding": {"x": {"field": "s", "type": "nominal", "title": null, "scale": {"domain": ["GG","GA","AG","AA","GC","GT","AT","TA","TG","CG"], "paddingInner": 0.28, "paddingOuter": 0.14}},
   "y": {"field": "lo", "type": "quantitative", "title": null, "scale": {"domain": [-8, 8], "nice": false, "zero": false}, "axis": {"values": [-8, -6, -4, -2, 0, 2, 4, 6, 8]}}, "y2": {"field": "hi"}}},
 {"data": {"name": "lines"}, "transform": [{"filter": "datum.p == 'Tilt' && datum.c != 'M'"}], "mark": {"type": "tick", "orient": "horizontal", "size": 21.4, "thickness": 2, "opacity": 1},
  "encoding": {"x": {"field": "s", "type": "nominal", "title": null}, "y": {"field": "v", "type": "quantitative", "title": null, "axis": {"values": [-8, -6, -4, -2, 0, 2, 4, 6, 8]}},
   "color": {"field": "c", "type": "nominal", "legend": null, "scale": {"domain": ["RR","YY","RY","YR"], "range": ["#cc0000","#ff9933","#00c800","#0066cc"]}}}},
 {"data": {"name": "lines"}, "transform": [{"filter": "datum.p == 'Tilt' && datum.c == 'M'"}], "mark": {"type": "tick", "orient": "horizontal", "size": 21.4, "thickness": 3, "opacity": 1, "color": "black"},
  "encoding": {"x": {"field": "s", "type": "nominal", "title": null}, "y": {"field": "v", "type": "quantitative", "title": null, "axis": {"values": [-8, -6, -4, -2, 0, 2, 4, 6, 8]}}}},
 {"data": {"name": "labels"}, "transform": [{"filter": "datum.p == 'Tilt' && datum.pos == 'top'"}], "mark": {"type": "text", "fontSize": 8.5, "baseline": "alphabetic", "dy": -3.5, "opacity": 0.8},
  "encoding": {"x": {"field": "s", "type": "nominal", "title": null}, "y": {"field": "v", "type": "quantitative", "title": null, "axis": {"values": [-8, -6, -4, -2, 0, 2, 4, 6, 8]}}, "text": {"field": "t"}, "color": {"field": "c", "type": "nominal", "legend": null}}},
 {"data": {"name": "labels"}, "transform": [{"filter": "datum.p == 'Tilt' && datum.pos == 'bot'"}], "mark": {"type": "text", "fontSize": 8.5, "baseline": "alphabetic", "dy": 9.8, "opacity": 0.8},
  "encoding": {"x": {"field": "s", "type": "nominal", "title": null}, "y": {"field": "v", "type": "quantitative", "title": null, "axis": {"values": [-8, -6, -4, -2, 0, 2, 4, 6, 8]}}, "text": {"field": "t"}, "color": {"field": "c", "type": "nominal", "legend": null}}},
 {"data": {"name": "groups"}, "mark": {"type": "rule", "color": "#707070", "strokeWidth": 2},
  "encoding": {"x": {"field": "a", "type": "nominal", "bandPosition": 0, "title": null}, "x2": {"field": "b", "bandPosition": 1}, "y": {"datum": -9.714, "axis": {"values": [-8, -6, -4, -2, 0, 2, 4, 6, 8]}}}}
]},
{"title": "Slide", "width": 297, "height": 182, "layer": [
 {"data": {"name": "boxes"}, "transform": [{"filter": "datum.p == 'Slide'"}], "mark": {"type": "bar", "fill": "white", "stroke": "#1a1a1a", "strokeWidth": 1.5},
  "encoding": {"x": {"field": "s", "type": "nominal", "title": null, "scale": {"domain": ["GG","GA","AG","AA","GC","GT","AT","TA","TG","CG"], "paddingInner": 0.28, "paddingOuter": 0.14}},
   "y": {"field": "lo", "type": "quantitative", "title": null, "scale": {"domain": [-1.6, 0.6], "nice": false, "zero": false}, "axis": {"values": [-1.5, -1, -0.5, 0, 0.5]}}, "y2": {"field": "hi"}}},
 {"data": {"name": "lines"}, "transform": [{"filter": "datum.p == 'Slide' && datum.c != 'M'"}], "mark": {"type": "tick", "orient": "horizontal", "size": 21.4, "thickness": 2, "opacity": 1},
  "encoding": {"x": {"field": "s", "type": "nominal", "title": null}, "y": {"field": "v", "type": "quantitative", "title": null, "axis": {"values": [-1.5, -1, -0.5, 0, 0.5]}},
   "color": {"field": "c", "type": "nominal", "legend": null, "scale": {"domain": ["RR","YY","RY","YR"], "range": ["#cc0000","#ff9933","#00c800","#0066cc"]}}}},
 {"data": {"name": "lines"}, "transform": [{"filter": "datum.p == 'Slide' && datum.c == 'M'"}], "mark": {"type": "tick", "orient": "horizontal", "size": 21.4, "thickness": 3, "opacity": 1, "color": "black"},
  "encoding": {"x": {"field": "s", "type": "nominal", "title": null}, "y": {"field": "v", "type": "quantitative", "title": null, "axis": {"values": [-1.5, -1, -0.5, 0, 0.5]}}}},
 {"data": {"name": "labels"}, "transform": [{"filter": "datum.p == 'Slide' && datum.pos == 'top'"}], "mark": {"type": "text", "fontSize": 8.5, "baseline": "alphabetic", "dy": -3.5, "opacity": 0.8},
  "encoding": {"x": {"field": "s", "type": "nominal", "title": null}, "y": {"field": "v", "type": "quantitative", "title": null, "axis": {"values": [-1.5, -1, -0.5, 0, 0.5]}}, "text": {"field": "t"}, "color": {"field": "c", "type": "nominal", "legend": null}}},
 {"data": {"name": "labels"}, "transform": [{"filter": "datum.p == 'Slide' && datum.pos == 'bot'"}], "mark": {"type": "text", "fontSize": 8.5, "baseline": "alphabetic", "dy": 9.8, "opacity": 0.8},
  "encoding": {"x": {"field": "s", "type": "nominal", "title": null}, "y": {"field": "v", "type": "quantitative", "title": null, "axis": {"values": [-1.5, -1, -0.5, 0, 0.5]}}, "text": {"field": "t"}, "color": {"field": "c", "type": "nominal", "legend": null}}},
 {"data": {"name": "groups"}, "mark": {"type": "rule", "color": "#707070", "strokeWidth": 2},
  "encoding": {"x": {"field": "a", "type": "nominal", "bandPosition": 0, "title": null}, "x2": {"field": "b", "bandPosition": 1}, "y": {"datum": -1.836, "axis": {"values": [-1.5, -1, -0.5, 0, 0.5]}}}}
]},
{"title": "Roll", "width": 297, "height": 182, "layer": [
 {"data": {"name": "boxes"}, "transform": [{"filter": "datum.p == 'Roll'"}], "mark": {"type": "bar", "fill": "white", "stroke": "#1a1a1a", "strokeWidth": 1.5},
  "encoding": {"x": {"field": "s", "type": "nominal", "title": null, "scale": {"domain": ["GG","GA","AG","AA","GC","GT","AT","TA","TG","CG"], "paddingInner": 0.28, "paddingOuter": 0.14}},
   "y": {"field": "lo", "type": "quantitative", "title": null, "scale": {"domain": [-7, 18], "nice": false, "zero": false}, "axis": {"values": [-5, 0, 5, 10, 15]}}, "y2": {"field": "hi"}}},
 {"data": {"name": "lines"}, "transform": [{"filter": "datum.p == 'Roll' && datum.c != 'M'"}], "mark": {"type": "tick", "orient": "horizontal", "size": 21.4, "thickness": 2, "opacity": 1},
  "encoding": {"x": {"field": "s", "type": "nominal", "title": null}, "y": {"field": "v", "type": "quantitative", "title": null, "axis": {"values": [-5, 0, 5, 10, 15]}},
   "color": {"field": "c", "type": "nominal", "legend": null, "scale": {"domain": ["RR","YY","RY","YR"], "range": ["#cc0000","#ff9933","#00c800","#0066cc"]}}}},
 {"data": {"name": "lines"}, "transform": [{"filter": "datum.p == 'Roll' && datum.c == 'M'"}], "mark": {"type": "tick", "orient": "horizontal", "size": 21.4, "thickness": 3, "opacity": 1, "color": "black"},
  "encoding": {"x": {"field": "s", "type": "nominal", "title": null}, "y": {"field": "v", "type": "quantitative", "title": null, "axis": {"values": [-5, 0, 5, 10, 15]}}}},
 {"data": {"name": "labels"}, "transform": [{"filter": "datum.p == 'Roll' && datum.pos == 'top'"}], "mark": {"type": "text", "fontSize": 8.5, "baseline": "alphabetic", "dy": -3.5, "opacity": 0.8},
  "encoding": {"x": {"field": "s", "type": "nominal", "title": null}, "y": {"field": "v", "type": "quantitative", "title": null, "axis": {"values": [-5, 0, 5, 10, 15]}}, "text": {"field": "t"}, "color": {"field": "c", "type": "nominal", "legend": null}}},
 {"data": {"name": "labels"}, "transform": [{"filter": "datum.p == 'Roll' && datum.pos == 'bot'"}], "mark": {"type": "text", "fontSize": 8.5, "baseline": "alphabetic", "dy": 9.8, "opacity": 0.8},
  "encoding": {"x": {"field": "s", "type": "nominal", "title": null}, "y": {"field": "v", "type": "quantitative", "title": null, "axis": {"values": [-5, 0, 5, 10, 15]}}, "text": {"field": "t"}, "color": {"field": "c", "type": "nominal", "legend": null}}},
 {"data": {"name": "groups"}, "mark": {"type": "rule", "color": "#707070", "strokeWidth": 2},
  "encoding": {"x": {"field": "a", "type": "nominal", "bandPosition": 0, "title": null}, "x2": {"field": "b", "bandPosition": 1}, "y": {"datum": -9.68, "axis": {"values": [-5, 0, 5, 10, 15]}}}}
]},
{"title": "Rise", "width": 297, "height": 182, "layer": [
 {"data": {"name": "boxes"}, "transform": [{"filter": "datum.p == 'Rise'"}], "mark": {"type": "bar", "fill": "white", "stroke": "#1a1a1a", "strokeWidth": 1.5},
  "encoding": {"x": {"field": "s", "type": "nominal", "title": "bp step", "scale": {"domain": ["GG","GA","AG","AA","GC","GT","AT","TA","TG","CG"], "paddingInner": 0.28, "paddingOuter": 0.14}},
   "y": {"field": "lo", "type": "quantitative", "title": null, "scale": {"domain": [2.6, 3.9], "nice": false, "zero": false}, "axis": {"values": [2.6, 2.8, 3, 3.2, 3.4, 3.6, 3.8]}}, "y2": {"field": "hi"}}},
 {"data": {"name": "lines"}, "transform": [{"filter": "datum.p == 'Rise' && datum.c != 'M'"}], "mark": {"type": "tick", "orient": "horizontal", "size": 21.4, "thickness": 2, "opacity": 1},
  "encoding": {"x": {"field": "s", "type": "nominal", "title": "bp step"}, "y": {"field": "v", "type": "quantitative", "title": null, "axis": {"values": [2.6, 2.8, 3, 3.2, 3.4, 3.6, 3.8]}},
   "color": {"field": "c", "type": "nominal", "legend": null, "scale": {"domain": ["RR","YY","RY","YR"], "range": ["#cc0000","#ff9933","#00c800","#0066cc"]}}}},
 {"data": {"name": "lines"}, "transform": [{"filter": "datum.p == 'Rise' && datum.c == 'M'"}], "mark": {"type": "tick", "orient": "horizontal", "size": 21.4, "thickness": 3, "opacity": 1, "color": "black"},
  "encoding": {"x": {"field": "s", "type": "nominal", "title": "bp step"}, "y": {"field": "v", "type": "quantitative", "title": null, "axis": {"values": [2.6, 2.8, 3, 3.2, 3.4, 3.6, 3.8]}}}},
 {"data": {"name": "labels"}, "transform": [{"filter": "datum.p == 'Rise' && datum.pos == 'top'"}], "mark": {"type": "text", "fontSize": 8.5, "baseline": "alphabetic", "dy": -3.5, "opacity": 0.8},
  "encoding": {"x": {"field": "s", "type": "nominal", "title": "bp step"}, "y": {"field": "v", "type": "quantitative", "title": null, "axis": {"values": [2.6, 2.8, 3, 3.2, 3.4, 3.6, 3.8]}}, "text": {"field": "t"}, "color": {"field": "c", "type": "nominal", "legend": null}}},
 {"data": {"name": "labels"}, "transform": [{"filter": "datum.p == 'Rise' && datum.pos == 'bot'"}], "mark": {"type": "text", "fontSize": 8.5, "baseline": "alphabetic", "dy": 9.8, "opacity": 0.8},
  "encoding": {"x": {"field": "s", "type": "nominal", "title": "bp step"}, "y": {"field": "v", "type": "quantitative", "title": null, "axis": {"values": [2.6, 2.8, 3, 3.2, 3.4, 3.6, 3.8]}}, "text": {"field": "t"}, "color": {"field": "c", "type": "nominal", "legend": null}}},
 {"data": {"name": "groups"}, "mark": {"type": "rule", "color": "#707070", "strokeWidth": 2},
  "encoding": {"x": {"field": "a", "type": "nominal", "bandPosition": 0, "title": "bp step"}, "x2": {"field": "b", "bandPosition": 1}, "y": {"datum": 2.461, "axis": {"values": [2.6, 2.8, 3, 3.2, 3.4, 3.6, 3.8]}}}}
]},
{"title": "Twist", "width": 297, "height": 182, "layer": [
 {"data": {"name": "boxes"}, "transform": [{"filter": "datum.p == 'Twist'"}], "mark": {"type": "bar", "fill": "white", "stroke": "#1a1a1a", "strokeWidth": 1.5},
  "encoding": {"x": {"field": "s", "type": "nominal", "title": "bp step", "scale": {"domain": ["GG","GA","AG","AA","GC","GT","AT","TA","TG","CG"], "paddingInner": 0.28, "paddingOuter": 0.14}},
   "y": {"field": "lo", "type": "quantitative", "title": null, "scale": {"domain": [17, 43.2], "nice": false, "zero": false}, "axis": {"values": [20, 25, 30, 35, 40]}}, "y2": {"field": "hi"}}},
 {"data": {"name": "lines"}, "transform": [{"filter": "datum.p == 'Twist' && datum.c != 'M'"}], "mark": {"type": "tick", "orient": "horizontal", "size": 21.4, "thickness": 2, "opacity": 1},
  "encoding": {"x": {"field": "s", "type": "nominal", "title": "bp step"}, "y": {"field": "v", "type": "quantitative", "title": null, "axis": {"values": [20, 25, 30, 35, 40]}},
   "color": {"field": "c", "type": "nominal", "legend": null, "scale": {"domain": ["RR","YY","RY","YR"], "range": ["#cc0000","#ff9933","#00c800","#0066cc"]}}}},
 {"data": {"name": "lines"}, "transform": [{"filter": "datum.p == 'Twist' && datum.c == 'M'"}], "mark": {"type": "tick", "orient": "horizontal", "size": 21.4, "thickness": 3, "opacity": 1, "color": "black"},
  "encoding": {"x": {"field": "s", "type": "nominal", "title": "bp step"}, "y": {"field": "v", "type": "quantitative", "title": null, "axis": {"values": [20, 25, 30, 35, 40]}}}},
 {"data": {"name": "labels"}, "transform": [{"filter": "datum.p == 'Twist' && datum.pos == 'top'"}], "mark": {"type": "text", "fontSize": 8.5, "baseline": "alphabetic", "dy": -3.5, "opacity": 0.8},
  "encoding": {"x": {"field": "s", "type": "nominal", "title": "bp step"}, "y": {"field": "v", "type": "quantitative", "title": null, "axis": {"values": [20, 25, 30, 35, 40]}}, "text": {"field": "t"}, "color": {"field": "c", "type": "nominal", "legend": null}}},
 {"data": {"name": "labels"}, "transform": [{"filter": "datum.p == 'Twist' && datum.pos == 'bot'"}], "mark": {"type": "text", "fontSize": 8.5, "baseline": "alphabetic", "dy": 9.8, "opacity": 0.8},
  "encoding": {"x": {"field": "s", "type": "nominal", "title": "bp step"}, "y": {"field": "v", "type": "quantitative", "title": null, "axis": {"values": [20, 25, 30, 35, 40]}}, "text": {"field": "t"}, "color": {"field": "c", "type": "nominal", "legend": null}}},
 {"data": {"name": "groups"}, "mark": {"type": "rule", "color": "#707070", "strokeWidth": 2},
  "encoding": {"x": {"field": "a", "type": "nominal", "bandPosition": 0, "title": "bp step"}, "x2": {"field": "b", "bandPosition": 1}, "y": {"datum": 14.19, "axis": {"values": [20, 25, 30, 35, 40]}}}}
]}
]
}
